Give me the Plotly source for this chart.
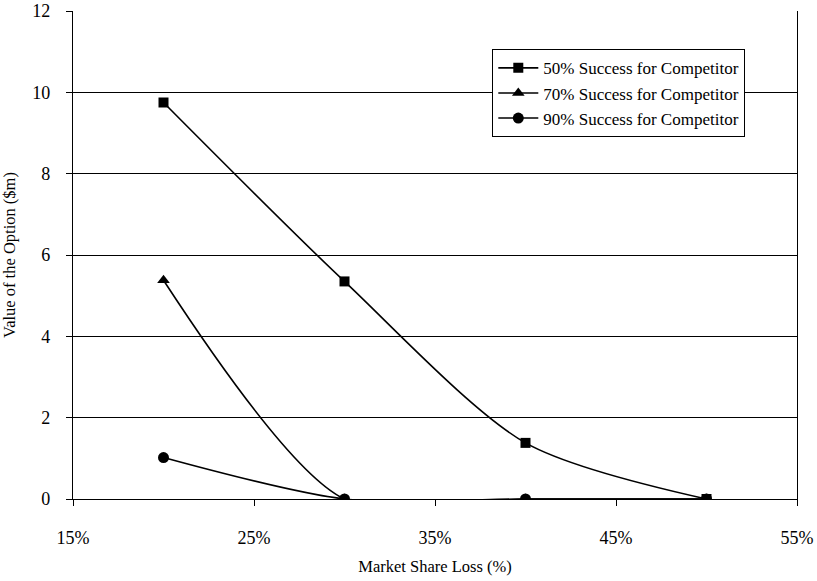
import plotly.graph_objects as go

market_share_loss = [0.20, 0.30, 0.40, 0.50]
s50 = [9.75, 5.35, 1.38, 0.0]
s70 = [5.38, 0.0, 0.0, 0.0]
s90 = [1.02, 0.0, 0.0, 0.0]
series_names = ["50% Success for Competitor", "70% Success for Competitor", "90% Success for Competitor"]
x_ticks = [0.15, 0.25, 0.35, 0.45, 0.55]
x_tick_labels = ["15%", "25%", "35%", "45%", "55%"]
y_ticks = [0, 2, 4, 6, 8, 10, 12]

font_family = "Liberation Serif, DejaVu Serif, serif"
fig = go.Figure()
for name, vals, sym, size in zip(series_names, [s50, s70, s90],
                                 ["square", "triangle-up", "circle"], [10, 11, 11]):
    fig.add_trace(go.Scatter(
        x=market_share_loss, y=vals, name=name, mode="lines+markers",
        line=dict(color="black", width=1.6, shape="spline", smoothing=0.8),
        marker=dict(symbol=sym, size=size, color="black"),
    ))

fig.update_layout(
    width=817, height=581,
    margin=dict(l=73, r=20, t=11, b=82),
    paper_bgcolor="white", plot_bgcolor="white",
    font=dict(family=font_family, size=16, color="black"),
    showlegend=True,
    legend=dict(x=(492 - 73) / 724, y=(499 - 49) / 488, xanchor="left", yanchor="top",
                bgcolor="white", bordercolor="black", borderwidth=1.3,
                font=dict(family=font_family, size=17, color="black"),
                tracegroupgap=0, itemwidth=40),
    xaxis=dict(range=[0.15, 0.55], tickvals=x_ticks, ticktext=x_tick_labels, automargin=False,
               showgrid=False, zeroline=False, showline=True, linecolor="black", linewidth=1.3,
               mirror=False, ticks="outside", ticklen=6, tickcolor="black", tickwidth=1.3,
               ticklabelstandoff=16,
               title=dict(text="Market Share Loss (%)", standoff=13,
                          font=dict(family=font_family, size=16.5)),
               tickfont=dict(family=font_family, size=18)),
    yaxis=dict(range=[0, 12], tickvals=y_ticks, showgrid=True, gridcolor="black", gridwidth=1.3,
               automargin=False,
               zeroline=False, showline=True, linecolor="black", linewidth=1.3,
               mirror=True, ticks="outside", ticklen=6, tickcolor="black", tickwidth=1.3,
               ticklabelstandoff=12,
               title=dict(text="Value of the Option ($m)", standoff=14,
                          font=dict(family=font_family, size=16.5)),
               tickfont=dict(family=font_family, size=18)),
)
fig.write_html("out.html", config={"displayModeBar": False},
               post_script="document.body.style.margin='0px';")
